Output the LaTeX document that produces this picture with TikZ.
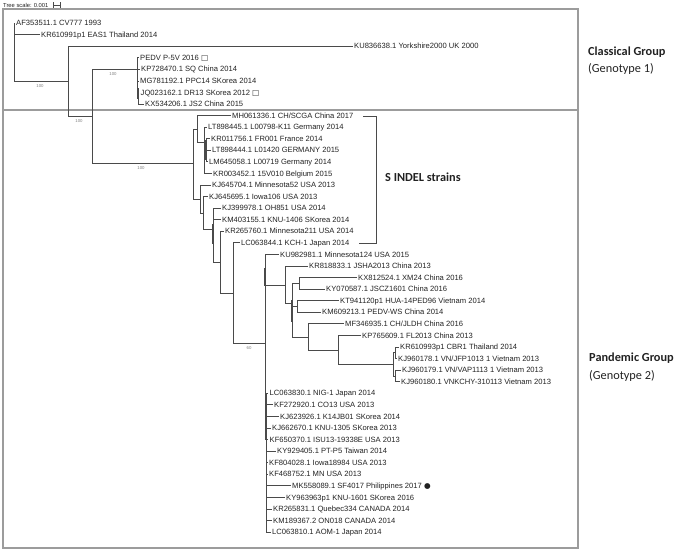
\documentclass[tikz,border=0pt]{standalone}
\usepackage{fontspec}
\setmainfont{Liberation Sans}
\newfontfamily\grpfont{Carlito}
\newfontfamily\symfont{DejaVu Sans}
\definecolor{treec}{HTML}{4A4A4A}
\definecolor{labc}{HTML}{222222}
\definecolor{framec}{HTML}{9C9C9C}
\newcommand\lf[4]{\node[leaf] (#1) at (#2,{23+11.57*#3}) {#4};}
\begin{document}
\begin{tikzpicture}[x=1pt,y=-1pt,
  br/.style={draw=treec, line width=0.7pt},
  thickb/.style={draw=treec, line width=1.6pt},
  leaf/.style={anchor=west, inner xsep=1.5pt, inner ysep=0pt, font=\fontsize{7.6}{8}\selectfont, text=labc, text height=5.4pt, text depth=0pt},
  boot/.style={font=\fontsize{4.3}{5}\selectfont, text=gray, inner sep=0pt},
  grplab/.style={anchor=west, font=\grpfont\fontsize{12.3}{14}\selectfont, text=labc, inner sep=0pt},
  framebox/.style={draw=framec, line width=1.1pt}]
\useasboundingbox (0,0) rectangle (676,550);
% frames
\draw[framebox] (3,9) rectangle (578,548);
\coordinate (sepL) at (3,110);
\coordinate (sepR) at (578,110);
\draw[framebox] (sepL) -- (sepR);
% tree scale
\node[anchor=west, inner sep=0pt, font=\fontsize{5.8}{6}\selectfont, text=labc] (ts) at (3,5) {Tree scale: 0.001};
\coordinate (sc1) at (53,5);
\coordinate (sc2) at (60,5);
\draw[treec, line width=0.4pt, |-|] (sc1) -- (sc2);
% internal nodes
\coordinate (R) at (14,52);
\coordinate (C1) at (68,81);
\coordinate (C2) at (92,116);
\coordinate (K) at (137,69);
\coordinate (K2) at (138,98);
\coordinate (P0) at (193,163);
\coordinate (E1) at (197,129);
\coordinate (E2) at (204,142);
\coordinate (E3) at (206,150);
\coordinate (F1) at (200,199);
\coordinate (F2) at (203,213);
\coordinate (G) at (213,229);
\coordinate (H1) at (220,262);
\coordinate (H2) at (233,293);
\coordinate (P) at (265,343);
\coordinate (A1) at (285,285);
\coordinate (A) at (292,303);
\coordinate (B1) at (299,283);
\coordinate (B2) at (297,306);
\coordinate (Cn) at (308,337);
\coordinate (D) at (338,350);
\coordinate (T) at (393,364);
\coordinate (T1) at (395,352);
\coordinate (T2) at (395,376);
\coordinate (L) at (266,427);
% leaves
\lf{l0}{14.5}{0}{AF353511.1 CV777 1993}
\lf{l1}{39.5}{1}{KR610991p1 EAS1 Thailand 2014}
\lf{l2}{352.5}{2}{KU836638.1 Yorkshire2000 UK 2000}
\lf{l3}{138.5}{3}{PEDV P-5V 2016 {\symfont □}}
\lf{l4}{139.5}{4}{KP728470.1 SQ China 2014}
\lf{l5}{138.5}{5}{MG781192.1 PPC14 SKorea 2014}
\lf{l6}{139}{6}{JQ023162.1 DR13 SKorea 2012 {\symfont □}}
\lf{l7}{143.5}{7}{KX534206.1 JS2 China 2015}
\lf{l8}{230.5}{8}{MH061336.1 CH/SCGA China 2017}
\lf{l9}{206.5}{9}{LT898445.1 L00798-K11 Germany 2014}
\lf{l10}{209.5}{10}{KR011756.1 FR001 France 2014}
\lf{l11}{210.5}{11}{LT898444.1 L01420 GERMANY 2015}
\lf{l12}{207.5}{12}{LM645058.1 L00719 Germany 2014}
\lf{l13}{211.5}{13}{KR003452.1 15V010 Belgium 2015}
\lf{l14}{210.5}{14}{KJ645704.1 Minnesota52 USA 2013}
\lf{l15}{207.5}{15}{KJ645695.1 Iowa106 USA 2013}
\lf{l16}{220.5}{16}{KJ399978.1 OH851 USA 2014}
\lf{l17}{220.5}{17}{KM403155.1 KNU-1406 SKorea 2014}
\lf{l18}{223.5}{18}{KR265760.1 Minnesota211 USA 2014}
\lf{l19}{239.5}{19}{LC063844.1 KCH-1 Japan 2014}
\lf{l20}{278.5}{20}{KU982981.1 Minnesota124 USA 2015}
\lf{l21}{307.5}{21}{KR818833.1 JSHA2013 China 2013}
\lf{l22}{356.5}{22}{KX812524.1 XM24 China 2016}
\lf{l23}{324.5}{23}{KY070587.1 JSCZ1601 China 2016}
\lf{l24}{338.5}{24}{KT941120p1 HUA-14PED96 Vietnam 2014}
\lf{l25}{320.5}{25}{KM609213.1 PEDV-WS China 2014}
\lf{l26}{343.5}{26}{MF346935.1 CH/JLDH China 2016}
\lf{l27}{360.5}{27}{KP765609.1 FL2013 China 2013}
\lf{l28}{398.5}{28}{KR610993p1 CBR1 Thailand 2014}
\lf{l29}{396.5}{29}{KJ960178.1 VN/JFP1013 1 Vietnam 2013}
\lf{l30}{400.5}{30}{KJ960179.1 VN/VAP1113 1 Vietnam 2013}
\lf{l31}{399.5}{31}{KJ960180.1 VNKCHY-310113 Vietnam 2013}
\lf{l32}{268}{32}{LC063830.1 NIG-1 Japan 2014}
\lf{l33}{272.5}{33}{KF272920.1 CO13 USA 2013}
\lf{l34}{278.5}{34}{KJ623926.1 K14JB01 SKorea 2014}
\lf{l35}{270.5}{35}{KJ662670.1 KNU-1305 SKorea 2013}
\lf{l36}{268}{36}{KF650370.1 ISU13-19338E USA 2013}
\lf{l37}{275.5}{37}{KY929405.1 PT-P5 Taiwan 2014}
\lf{l38}{267.5}{38}{KF804028.1 Iowa18984 USA 2013}
\lf{l39}{267.5}{39}{KF468752.1 MN USA 2013}
\lf{l40}{290.5}{40}{MK558089.1 SF4017 Philippines 2017 {\symfont ●}}
\lf{l41}{284.5}{41}{KY963963p1 KNU-1601 SKorea 2016}
\lf{l42}{271.5}{42}{KR265831.1 Quebec334 CANADA 2014}
\lf{l43}{271.5}{43}{KM189367.2 ON018 CANADA 2014}
\lf{l44}{270.5}{44}{LC063810.1 AOM-1 Japan 2014}
% branches
\foreach \p/\c in {R/l0.west,R/l1.west,R/C1,C1/l2.west,C1/C2,C2/K,C2/P0,
  K/l3.west,K/l4.west,K/l5.west,K/K2,K2/l6.west,K2/l7.west,
  P0/E1,P0/F1,E1/l8.west,E1/E2,E2/l9.west,E2/E3,E2/l13.west,
  E3/l10.west,E3/l11.west,E3/l12.west,
  F1/l14.west,F1/F2,F2/l15.west,F2/G,G/l16.west,G/l17.west,G/H1,
  H1/l18.west,H1/H2,H2/l19.west,H2/P,
  P/l20.west,P/A1,P/L,A1/l21.west,A1/A,A/B1,A/B2,A/Cn,
  B1/l22.west,B1/l23.west,B2/l24.west,B2/l25.west,
  Cn/l26.west,Cn/D,D/l27.west,D/T,T/T1,T/T2,
  T1/l28.west,T1/l29.west,T2/l30.west,T2/l31.west,
  L/l32.west,L/l33.west,L/l34.west,L/l35.west,L/l36.west,L/l37.west,
  L/l38.west,L/l39.west,L/l40.west,L/l41.west,L/l42.west,L/l43.west,L/l44.west}
  {\draw[br] (\p) |- (\c);}
% near-zero clusters (thick)
\draw[thickb] (206,140) -- (206,160);
\draw[thickb] (138,88) -- (138,98);
\draw[thickb] (213,224) -- (213,244);
\draw[thickb] (265,268) -- (265,286);
\draw[thickb] (292,300) -- (292,322);
\draw[thickb] (266,397) -- (266,440);
% bootstrap values
\node[boot] (b1) at (40,86) {100};
\node[boot] (b2) at (113,74) {100};
\node[boot] (b3) at (79,121) {100};
\node[boot] (b4) at (141,168) {100};
\node[boot] (b5) at (249,348) {60};
% S INDEL bracket
\coordinate (sb1) at (363,116);
\coordinate (sb2) at (376,116);
\coordinate (sb3) at (376,243);
\coordinate (sb4) at (359,243);
\draw[treec, line width=0.8pt] (sb1) -- (sb2) -- (sb3) -- (sb4);
\node[grplab, font=\grpfont\bfseries\fontsize{12.3}{14}\selectfont] (sindel) at (385,177) {S INDEL strains};
% group labels
\node[grplab, font=\grpfont\bfseries\fontsize{12.3}{14}\selectfont] (cg) at (588,52) {Classical Group};
\node[grplab] (cg2) at (588,68.5) {(Genotype 1)};
\node[grplab, font=\grpfont\bfseries\fontsize{12.3}{14}\selectfont] (pg) at (589,358) {Pandemic Group};
\node[grplab] (pg2) at (589,376) {(Genotype 2)};
\end{tikzpicture}
\end{document}
